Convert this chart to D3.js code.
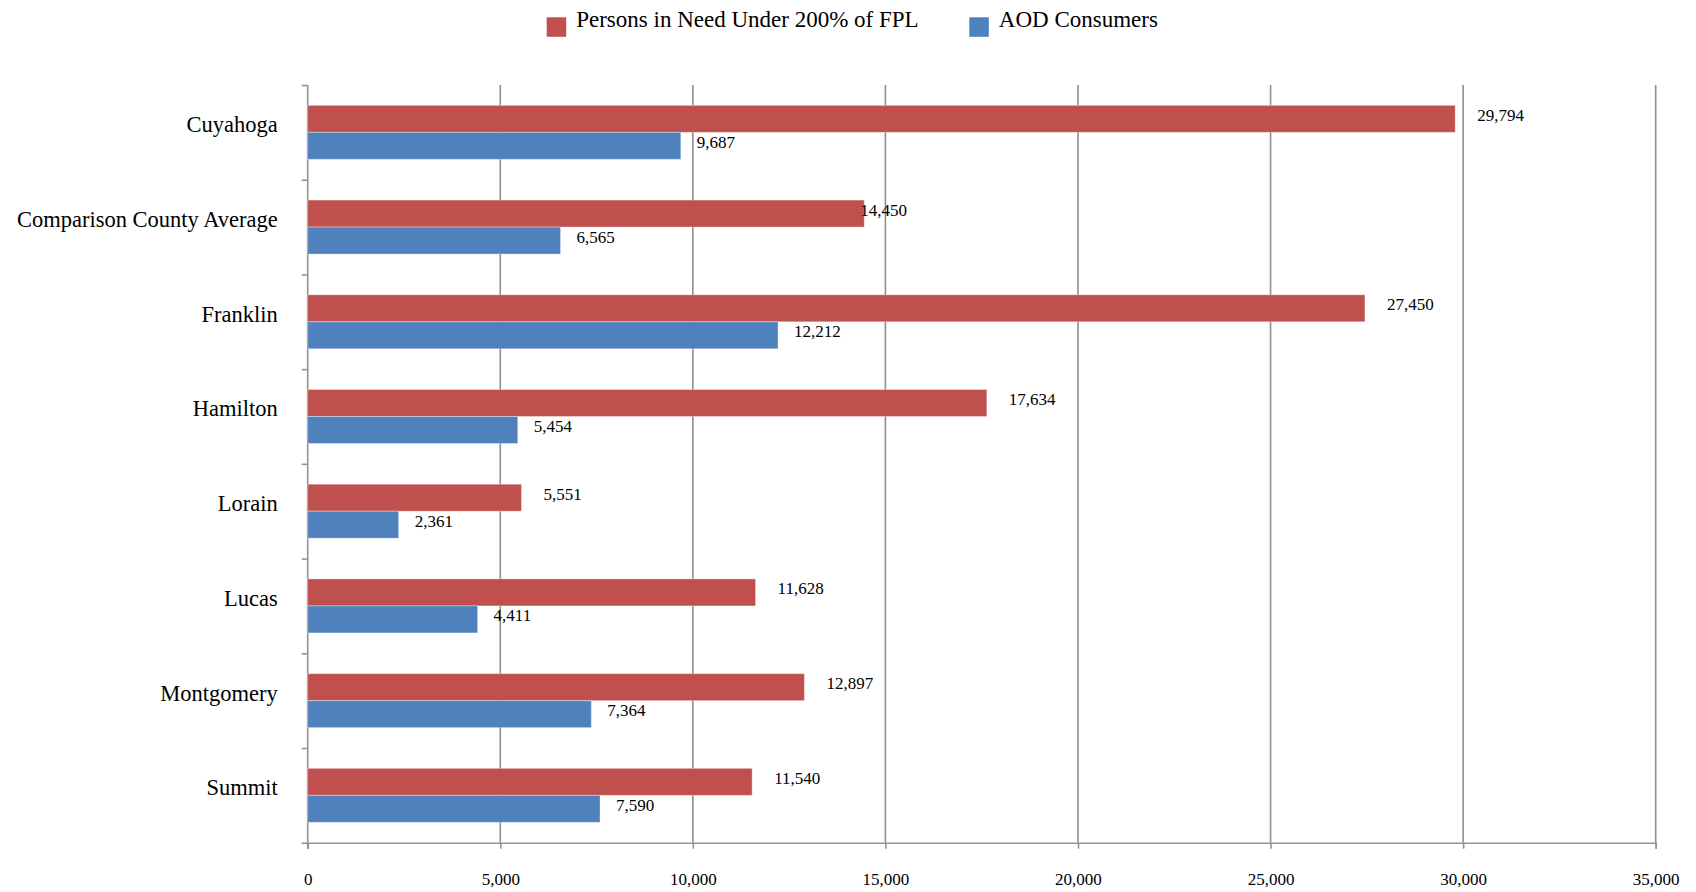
<!DOCTYPE html>
<html>
<head>
<meta charset="utf-8">
<script src="https://cdn.jsdelivr.net/npm/d3@7"></script>
<style>
  body { margin: 0; background: #fff; }
  text { font-family: "Liberation Serif", "Times New Roman", serif; fill: #000; }
  .axis path, .axis line { stroke: #939393; stroke-width: 1.6; }
  .grid line { stroke: #8e8e8e; stroke-width: 1.6; }
</style>
</head>
<body>
<div id="chart"></div>
<script>
// chart values
var categories = ["Cuyahoga", "Comparison County Average", "Franklin", "Hamilton",
                  "Lorain", "Lucas", "Montgomery", "Summit"];
var personsInNeed = [29794, 14450, 27450, 17634, 5551, 11628, 12897, 11540];
var aodConsumers  = [9687, 6565, 12212, 5454, 2361, 4411, 7364, 7590];
var seriesNames = ["Persons in Need Under 200% of FPL", "AOD Consumers"];
var xTickValues = [0, 5000, 10000, 15000, 20000, 25000, 30000, 35000];

var width = 1696, height = 892;
var plot = {left: 307.7, right: 1655.7, top: 85, bottom: 842.7};
var colors = ["#C0504D", "#4F81BD"];
var labelGap = [22, 16];        // distance of value label from bar end, per series
var labelNudge = {"1-0": -26};  // one label sits over its bar in the original

var svg = d3.select("#chart").append("svg")
  .attr("width", width)
  .attr("height", height);

var x = d3.scaleLinear()
  .domain([0, 35000])
  .range([plot.left, plot.right]);

var y = d3.scaleBand()
  .domain(categories)
  .range([plot.top, plot.bottom])
  .paddingInner(0.43)
  .paddingOuter(0.215);

var ySub = d3.scaleBand()
  .domain([0, 1])
  .range([0, y.bandwidth()]);

// index scale used only for the category boundary ticks
var yEdge = d3.scaleLinear()
  .domain([0, categories.length])
  .range([plot.top, plot.bottom]);

//vertical gridlines
svg.append("g")
    .attr("class", "grid")
  .selectAll("line")
  .data(xTickValues.slice(1))
  .enter().append("line")
    .attr("x1", function(d) { return x(d); })
    .attr("x2", function(d) { return x(d); })
    .attr("y1", plot.top)
    .attr("y2", plot.bottom);

//x-axis
var xAxis = svg.append("g")
  .attr("class", "axis")
  .attr("transform", "translate(0," + plot.bottom + ")")
  .call(d3.axisBottom(x).tickValues(xTickValues).tickSize(6).tickPadding(24)
          .tickFormat(d3.format(",")));
xAxis.selectAll("text")
  .attr("font-size", "17px")
  .attr("font-family", "Liberation Serif, serif");

//y-axis, ticks between categories
var yAxis = svg.append("g")
  .attr("class", "axis")
  .attr("transform", "translate(" + plot.left + ",0)")
  .call(d3.axisLeft(yEdge).ticks(categories.length).tickSize(6).tickFormat(""));
yAxis.select(".domain").attr("d", "M0," + plot.top + "V" + (plot.bottom + 6));

//category labels
var yLabels = svg.append("g")
  .attr("transform", "translate(" + (plot.left - 30) + ",0)")
  .call(d3.axisLeft(y).tickSize(0).tickPadding(0));
yLabels.select(".domain").remove();
yLabels.selectAll("text")
  .attr("font-size", "22.5px")
  .attr("font-family", "Liberation Serif, serif")
  .attr("dy", "0em");

//bars
var rows = categories.map(function(c, i) {
  return {cat: c, i: i, values: [personsInNeed[i], aodConsumers[i]]};
});

var groups = svg.selectAll("g.cat")
  .data(rows)
  .enter().append("g")
    .attr("class", "cat")
    .attr("transform", function(d) { return "translate(0," + y(d.cat) + ")"; });

var cells = groups.selectAll("g.bar")
  .data(function(d) {
    return d.values.map(function(v, s) { return {v: v, s: s, i: d.i}; });
  })
  .enter().append("g")
    .attr("class", "bar");

cells.append("rect")
  .attr("x", x(0))
  .attr("y", function(d) { return ySub(d.s); })
  .attr("width", function(d) { return x(d.v) - x(0); })
  .attr("height", ySub.bandwidth())
  .attr("fill", function(d) { return colors[d.s]; })
  .attr("stroke", "rgba(255,255,255,0.35)")
  .attr("stroke-width", 1);

cells.append("text")
  .attr("x", function(d) {
    var nudge = labelNudge[d.i + "-" + d.s];
    return x(d.v) + (nudge !== undefined ? nudge + labelGap[d.s] : labelGap[d.s]);
  })
  .attr("y", function(d) { return ySub(d.s) + ySub.bandwidth() / 2 + 2; })
  .attr("font-size", "17px")
  .text(function(d) { return d3.format(",")(d.v); });

//legend
var legendX = [546.7, 969.3];
var legend = svg.selectAll(".legend")
  .data(seriesNames)
  .enter().append("g")
    .attr("class", "legend")
    .attr("transform", function(d, i) { return "translate(" + legendX[i] + ",17.3)"; });

legend.append("rect")
  .attr("width", 19.5)
  .attr("height", 19.5)
  .attr("fill", function(d, i) { return colors[i]; });

legend.append("text")
  .attr("x", 29.5)
  .attr("y", 9.2)
  .attr("font-size", "23px")
  .text(function(d) { return d; });
</script>
</body>
</html>
